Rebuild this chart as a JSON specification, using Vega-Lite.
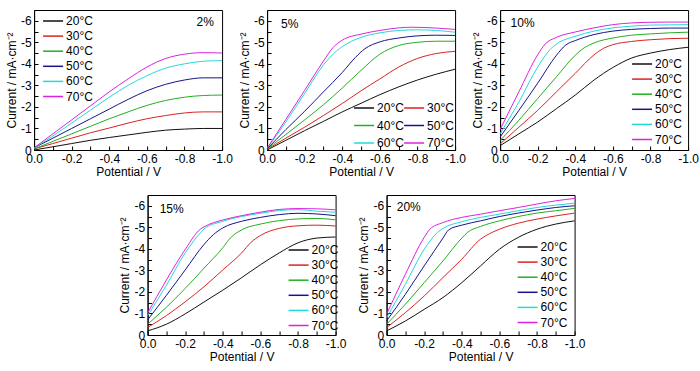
{
"$schema":"https://vega.github.io/schema/vega-lite/v6.json",
"padding":{"top":9,"left":4,"right":0,"bottom":3},
"config":{"font":"Liberation Sans","view":{"stroke":"#000","strokeWidth":1},
"axis":{"domainColor":"#000","tickColor":"#000","labelColor":"#000","titleColor":"#000","labelFontSize":12,"titleFontSize":12,"titleFontWeight":"normal","grid":false,"tickSize":-4,"labelPadding":7,"labelFlush":false,"labelOverlap":false,"tickCount":40},
"legend":{"labelFontSize":12,"labelColor":"#000","padding":0,"symbolType":"M-2,0H2","symbolSize":100,"symbolStrokeWidth":1.5,"rowPadding":3.1,"labelOffset":7},
"text":{"font":"Liberation Sans"}},
"resolve":{"scale":{"color":"independent"}},
"spacing":16,
"center":true,
"data":{"values":[
{"p":"2%","T":"20°C","V":0,"I":0},{"p":"2%","T":"20°C","V":-0.1,"I":-0.15},{"p":"2%","T":"20°C","V":-0.2,"I":-0.3},{"p":"2%","T":"20°C","V":-0.3,"I":-0.45},{"p":"2%","T":"20°C","V":-0.4,"I":-0.58},{"p":"2%","T":"20°C","V":-0.5,"I":-0.7},{"p":"2%","T":"20°C","V":-0.6,"I":-0.82},{"p":"2%","T":"20°C","V":-0.7,"I":-0.92},{"p":"2%","T":"20°C","V":-0.8,"I":-0.97},{"p":"2%","T":"20°C","V":-0.9,"I":-1.0},{"p":"2%","T":"20°C","V":-1.0,"I":-1.0},
{"p":"2%","T":"30°C","V":0,"I":-0.05},{"p":"2%","T":"30°C","V":-0.1,"I":-0.3},{"p":"2%","T":"30°C","V":-0.2,"I":-0.55},{"p":"2%","T":"30°C","V":-0.3,"I":-0.8},{"p":"2%","T":"30°C","V":-0.4,"I":-1.02},{"p":"2%","T":"30°C","V":-0.5,"I":-1.25},{"p":"2%","T":"30°C","V":-0.6,"I":-1.45},{"p":"2%","T":"30°C","V":-0.7,"I":-1.6},{"p":"2%","T":"30°C","V":-0.8,"I":-1.72},{"p":"2%","T":"30°C","V":-0.9,"I":-1.77},{"p":"2%","T":"30°C","V":-1.0,"I":-1.77},
{"p":"2%","T":"40°C","V":0,"I":-0.05},{"p":"2%","T":"40°C","V":-0.1,"I":-0.4},{"p":"2%","T":"40°C","V":-0.2,"I":-0.75},{"p":"2%","T":"40°C","V":-0.3,"I":-1.1},{"p":"2%","T":"40°C","V":-0.4,"I":-1.45},{"p":"2%","T":"40°C","V":-0.5,"I":-1.77},{"p":"2%","T":"40°C","V":-0.6,"I":-2.07},{"p":"2%","T":"40°C","V":-0.7,"I":-2.3},{"p":"2%","T":"40°C","V":-0.8,"I":-2.45},{"p":"2%","T":"40°C","V":-0.9,"I":-2.53},{"p":"2%","T":"40°C","V":-1.0,"I":-2.55},
{"p":"2%","T":"50°C","V":0,"I":-0.1},{"p":"2%","T":"50°C","V":-0.1,"I":-0.55},{"p":"2%","T":"50°C","V":-0.2,"I":-1.0},{"p":"2%","T":"50°C","V":-0.3,"I":-1.45},{"p":"2%","T":"50°C","V":-0.4,"I":-1.9},{"p":"2%","T":"50°C","V":-0.5,"I":-2.35},{"p":"2%","T":"50°C","V":-0.6,"I":-2.75},{"p":"2%","T":"50°C","V":-0.7,"I":-3.05},{"p":"2%","T":"50°C","V":-0.8,"I":-3.25},{"p":"2%","T":"50°C","V":-0.9,"I":-3.35},{"p":"2%","T":"50°C","V":-1.0,"I":-3.35},
{"p":"2%","T":"60°C","V":0,"I":-0.1},{"p":"2%","T":"60°C","V":-0.1,"I":-0.65},{"p":"2%","T":"60°C","V":-0.2,"I":-1.25},{"p":"2%","T":"60°C","V":-0.3,"I":-1.85},{"p":"2%","T":"60°C","V":-0.4,"I":-2.45},{"p":"2%","T":"60°C","V":-0.5,"I":-3.0},{"p":"2%","T":"60°C","V":-0.6,"I":-3.45},{"p":"2%","T":"60°C","V":-0.7,"I":-3.8},{"p":"2%","T":"60°C","V":-0.8,"I":-4.0},{"p":"2%","T":"60°C","V":-0.9,"I":-4.12},{"p":"2%","T":"60°C","V":-1.0,"I":-4.15},
{"p":"2%","T":"70°C","V":0,"I":-0.1},{"p":"2%","T":"70°C","V":-0.1,"I":-0.75},{"p":"2%","T":"70°C","V":-0.2,"I":-1.4},{"p":"2%","T":"70°C","V":-0.3,"I":-2.05},{"p":"2%","T":"70°C","V":-0.4,"I":-2.7},{"p":"2%","T":"70°C","V":-0.5,"I":-3.3},{"p":"2%","T":"70°C","V":-0.6,"I":-3.85},{"p":"2%","T":"70°C","V":-0.7,"I":-4.25},{"p":"2%","T":"70°C","V":-0.8,"I":-4.45},{"p":"2%","T":"70°C","V":-0.9,"I":-4.52},{"p":"2%","T":"70°C","V":-1.0,"I":-4.5},

{"p":"5%","T":"20°C","V":0,"I":0},{"p":"5%","T":"20°C","V":-0.1,"I":-0.45},{"p":"5%","T":"20°C","V":-0.2,"I":-0.9},{"p":"5%","T":"20°C","V":-0.3,"I":-1.33},{"p":"5%","T":"20°C","V":-0.4,"I":-1.77},{"p":"5%","T":"20°C","V":-0.5,"I":-2.17},{"p":"5%","T":"20°C","V":-0.6,"I":-2.57},{"p":"5%","T":"20°C","V":-0.7,"I":-2.93},{"p":"5%","T":"20°C","V":-0.8,"I":-3.25},{"p":"5%","T":"20°C","V":-0.9,"I":-3.52},{"p":"5%","T":"20°C","V":-1.0,"I":-3.75},
{"p":"5%","T":"30°C","V":0,"I":-0.03},{"p":"5%","T":"30°C","V":-0.1,"I":-0.55},{"p":"5%","T":"30°C","V":-0.2,"I":-1.06},{"p":"5%","T":"30°C","V":-0.3,"I":-1.6},{"p":"5%","T":"30°C","V":-0.4,"I":-2.16},{"p":"5%","T":"30°C","V":-0.5,"I":-2.75},{"p":"5%","T":"30°C","V":-0.6,"I":-3.3},{"p":"5%","T":"30°C","V":-0.7,"I":-3.85},{"p":"5%","T":"30°C","V":-0.8,"I":-4.25},{"p":"5%","T":"30°C","V":-0.9,"I":-4.48},{"p":"5%","T":"30°C","V":-1.0,"I":-4.58},
{"p":"5%","T":"40°C","V":0,"I":-0.05},{"p":"5%","T":"40°C","V":-0.1,"I":-0.72},{"p":"5%","T":"40°C","V":-0.2,"I":-1.4},{"p":"5%","T":"40°C","V":-0.3,"I":-2.1},{"p":"5%","T":"40°C","V":-0.4,"I":-2.88},{"p":"5%","T":"40°C","V":-0.5,"I":-3.7},{"p":"5%","T":"40°C","V":-0.6,"I":-4.45},{"p":"5%","T":"40°C","V":-0.7,"I":-4.85},{"p":"5%","T":"40°C","V":-0.8,"I":-5.0},{"p":"5%","T":"40°C","V":-0.9,"I":-5.05},{"p":"5%","T":"40°C","V":-1.0,"I":-5.05},
{"p":"5%","T":"50°C","V":0,"I":-0.05},{"p":"5%","T":"50°C","V":-0.1,"I":-0.95},{"p":"5%","T":"50°C","V":-0.2,"I":-1.8},{"p":"5%","T":"50°C","V":-0.3,"I":-2.7},{"p":"5%","T":"50°C","V":-0.4,"I":-3.6},{"p":"5%","T":"50°C","V":-0.47,"I":-4.3},{"p":"5%","T":"50°C","V":-0.52,"I":-4.7},{"p":"5%","T":"50°C","V":-0.6,"I":-5.02},{"p":"5%","T":"50°C","V":-0.7,"I":-5.2},{"p":"5%","T":"50°C","V":-0.8,"I":-5.3},{"p":"5%","T":"50°C","V":-0.9,"I":-5.33},{"p":"5%","T":"50°C","V":-1.0,"I":-5.32},
{"p":"5%","T":"60°C","V":0,"I":-0.08},{"p":"5%","T":"60°C","V":-0.1,"I":-1.3},{"p":"5%","T":"60°C","V":-0.2,"I":-2.63},{"p":"5%","T":"60°C","V":-0.3,"I":-3.95},{"p":"5%","T":"60°C","V":-0.37,"I":-4.6},{"p":"5%","T":"60°C","V":-0.4,"I":-4.8},{"p":"5%","T":"60°C","V":-0.5,"I":-5.23},{"p":"5%","T":"60°C","V":-0.6,"I":-5.44},{"p":"5%","T":"60°C","V":-0.7,"I":-5.55},{"p":"5%","T":"60°C","V":-0.8,"I":-5.58},{"p":"5%","T":"60°C","V":-0.9,"I":-5.55},{"p":"5%","T":"60°C","V":-1.0,"I":-5.47},
{"p":"5%","T":"70°C","V":0,"I":-0.08},{"p":"5%","T":"70°C","V":-0.1,"I":-1.42},{"p":"5%","T":"70°C","V":-0.2,"I":-2.77},{"p":"5%","T":"70°C","V":-0.3,"I":-4.13},{"p":"5%","T":"70°C","V":-0.35,"I":-4.75},{"p":"5%","T":"70°C","V":-0.4,"I":-5.1},{"p":"5%","T":"70°C","V":-0.5,"I":-5.38},{"p":"5%","T":"70°C","V":-0.6,"I":-5.55},{"p":"5%","T":"70°C","V":-0.7,"I":-5.67},{"p":"5%","T":"70°C","V":-0.77,"I":-5.7},{"p":"5%","T":"70°C","V":-0.9,"I":-5.66},{"p":"5%","T":"70°C","V":-1.0,"I":-5.6},

{"p":"10%","T":"20°C","V":0,"I":-0.2},{"p":"10%","T":"20°C","V":-0.1,"I":-0.75},{"p":"10%","T":"20°C","V":-0.2,"I":-1.3},{"p":"10%","T":"20°C","V":-0.3,"I":-1.92},{"p":"10%","T":"20°C","V":-0.4,"I":-2.55},{"p":"10%","T":"20°C","V":-0.5,"I":-3.25},{"p":"10%","T":"20°C","V":-0.6,"I":-3.83},{"p":"10%","T":"20°C","V":-0.7,"I":-4.27},{"p":"10%","T":"20°C","V":-0.8,"I":-4.5},{"p":"10%","T":"20°C","V":-0.9,"I":-4.66},{"p":"10%","T":"20°C","V":-1.0,"I":-4.77},
{"p":"10%","T":"30°C","V":0,"I":-0.28},{"p":"10%","T":"30°C","V":-0.1,"I":-1.06},{"p":"10%","T":"30°C","V":-0.2,"I":-1.84},{"p":"10%","T":"30°C","V":-0.3,"I":-2.7},{"p":"10%","T":"30°C","V":-0.4,"I":-3.56},{"p":"10%","T":"30°C","V":-0.5,"I":-4.42},{"p":"10%","T":"30°C","V":-0.55,"I":-4.72},{"p":"10%","T":"30°C","V":-0.6,"I":-4.89},{"p":"10%","T":"30°C","V":-0.7,"I":-5.04},{"p":"10%","T":"30°C","V":-0.8,"I":-5.12},{"p":"10%","T":"30°C","V":-0.9,"I":-5.17},{"p":"10%","T":"30°C","V":-1.0,"I":-5.19},
{"p":"10%","T":"40°C","V":0,"I":-0.44},{"p":"10%","T":"40°C","V":-0.1,"I":-1.38},{"p":"10%","T":"40°C","V":-0.2,"I":-2.39},{"p":"10%","T":"40°C","V":-0.3,"I":-3.4},{"p":"10%","T":"40°C","V":-0.4,"I":-4.4},{"p":"10%","T":"40°C","V":-0.44,"I":-4.7},{"p":"10%","T":"40°C","V":-0.5,"I":-4.97},{"p":"10%","T":"40°C","V":-0.6,"I":-5.2},{"p":"10%","T":"40°C","V":-0.7,"I":-5.33},{"p":"10%","T":"40°C","V":-0.8,"I":-5.39},{"p":"10%","T":"40°C","V":-0.9,"I":-5.44},{"p":"10%","T":"40°C","V":-1.0,"I":-5.47},
{"p":"10%","T":"50°C","V":0,"I":-0.6},{"p":"10%","T":"50°C","V":-0.1,"I":-1.84},{"p":"10%","T":"50°C","V":-0.2,"I":-3.1},{"p":"10%","T":"50°C","V":-0.3,"I":-4.4},{"p":"10%","T":"50°C","V":-0.35,"I":-4.88},{"p":"10%","T":"50°C","V":-0.4,"I":-5.08},{"p":"10%","T":"50°C","V":-0.5,"I":-5.36},{"p":"10%","T":"50°C","V":-0.6,"I":-5.52},{"p":"10%","T":"50°C","V":-0.7,"I":-5.6},{"p":"10%","T":"50°C","V":-0.8,"I":-5.64},{"p":"10%","T":"50°C","V":-0.9,"I":-5.66},{"p":"10%","T":"50°C","V":-1.0,"I":-5.66},
{"p":"10%","T":"60°C","V":0,"I":-0.75},{"p":"10%","T":"60°C","V":-0.1,"I":-2.23},{"p":"10%","T":"60°C","V":-0.2,"I":-3.85},{"p":"10%","T":"60°C","V":-0.27,"I":-4.7},{"p":"10%","T":"60°C","V":-0.3,"I":-4.92},{"p":"10%","T":"60°C","V":-0.4,"I":-5.28},{"p":"10%","T":"60°C","V":-0.5,"I":-5.52},{"p":"10%","T":"60°C","V":-0.6,"I":-5.67},{"p":"10%","T":"60°C","V":-0.7,"I":-5.75},{"p":"10%","T":"60°C","V":-0.8,"I":-5.8},{"p":"10%","T":"60°C","V":-0.9,"I":-5.81},{"p":"10%","T":"60°C","V":-1.0,"I":-5.82},
{"p":"10%","T":"70°C","V":0,"I":-0.95},{"p":"10%","T":"70°C","V":-0.1,"I":-2.7},{"p":"10%","T":"70°C","V":-0.2,"I":-4.42},{"p":"10%","T":"70°C","V":-0.24,"I":-4.92},{"p":"10%","T":"70°C","V":-0.3,"I":-5.23},{"p":"10%","T":"70°C","V":-0.4,"I":-5.48},{"p":"10%","T":"70°C","V":-0.5,"I":-5.67},{"p":"10%","T":"70°C","V":-0.6,"I":-5.82},{"p":"10%","T":"70°C","V":-0.7,"I":-5.9},{"p":"10%","T":"70°C","V":-0.8,"I":-5.93},{"p":"10%","T":"70°C","V":-0.9,"I":-5.94},{"p":"10%","T":"70°C","V":-1.0,"I":-5.94},

{"p":"15%","T":"20°C","V":0,"I":-0.19},{"p":"15%","T":"20°C","V":-0.1,"I":-0.5},{"p":"15%","T":"20°C","V":-0.2,"I":-0.98},{"p":"15%","T":"20°C","V":-0.3,"I":-1.53},{"p":"15%","T":"20°C","V":-0.4,"I":-2.08},{"p":"15%","T":"20°C","V":-0.5,"I":-2.66},{"p":"15%","T":"20°C","V":-0.6,"I":-3.26},{"p":"15%","T":"20°C","V":-0.7,"I":-3.81},{"p":"15%","T":"20°C","V":-0.8,"I":-4.28},{"p":"15%","T":"20°C","V":-0.9,"I":-4.5},{"p":"15%","T":"20°C","V":-1.0,"I":-4.55},
{"p":"15%","T":"30°C","V":0,"I":-0.35},{"p":"15%","T":"30°C","V":-0.1,"I":-0.9},{"p":"15%","T":"30°C","V":-0.2,"I":-1.54},{"p":"15%","T":"30°C","V":-0.3,"I":-2.24},{"p":"15%","T":"30°C","V":-0.4,"I":-3.02},{"p":"15%","T":"30°C","V":-0.5,"I":-3.81},{"p":"15%","T":"30°C","V":-0.55,"I":-4.3},{"p":"15%","T":"30°C","V":-0.6,"I":-4.62},{"p":"15%","T":"30°C","V":-0.7,"I":-4.95},{"p":"15%","T":"30°C","V":-0.8,"I":-5.07},{"p":"15%","T":"30°C","V":-0.9,"I":-5.1},{"p":"15%","T":"30°C","V":-1.0,"I":-5.06},
{"p":"15%","T":"40°C","V":0,"I":-0.5},{"p":"15%","T":"40°C","V":-0.1,"I":-1.29},{"p":"15%","T":"40°C","V":-0.2,"I":-2.16},{"p":"15%","T":"40°C","V":-0.3,"I":-3.1},{"p":"15%","T":"40°C","V":-0.4,"I":-4.05},{"p":"15%","T":"40°C","V":-0.44,"I":-4.5},{"p":"15%","T":"40°C","V":-0.5,"I":-4.88},{"p":"15%","T":"40°C","V":-0.6,"I":-5.15},{"p":"15%","T":"40°C","V":-0.7,"I":-5.31},{"p":"15%","T":"40°C","V":-0.8,"I":-5.39},{"p":"15%","T":"40°C","V":-0.9,"I":-5.41},{"p":"15%","T":"40°C","V":-1.0,"I":-5.35},
{"p":"15%","T":"50°C","V":0,"I":-0.7},{"p":"15%","T":"50°C","V":-0.1,"I":-1.84},{"p":"15%","T":"50°C","V":-0.2,"I":-3.02},{"p":"15%","T":"50°C","V":-0.3,"I":-4.2},{"p":"15%","T":"50°C","V":-0.35,"I":-4.66},{"p":"15%","T":"50°C","V":-0.4,"I":-4.97},{"p":"15%","T":"50°C","V":-0.5,"I":-5.28},{"p":"15%","T":"50°C","V":-0.6,"I":-5.46},{"p":"15%","T":"50°C","V":-0.7,"I":-5.59},{"p":"15%","T":"50°C","V":-0.8,"I":-5.65},{"p":"15%","T":"50°C","V":-0.9,"I":-5.62},{"p":"15%","T":"50°C","V":-1.0,"I":-5.54},
{"p":"15%","T":"60°C","V":0,"I":-0.9},{"p":"15%","T":"60°C","V":-0.1,"I":-2.31},{"p":"15%","T":"60°C","V":-0.2,"I":-3.81},{"p":"15%","T":"60°C","V":-0.29,"I":-4.83},{"p":"15%","T":"60°C","V":-0.3,"I":-4.92},{"p":"15%","T":"60°C","V":-0.4,"I":-5.28},{"p":"15%","T":"60°C","V":-0.5,"I":-5.5},{"p":"15%","T":"60°C","V":-0.6,"I":-5.65},{"p":"15%","T":"60°C","V":-0.7,"I":-5.78},{"p":"15%","T":"60°C","V":-0.8,"I":-5.82},{"p":"15%","T":"60°C","V":-0.9,"I":-5.75},{"p":"15%","T":"60°C","V":-1.0,"I":-5.7},
{"p":"15%","T":"70°C","V":0,"I":-1.02},{"p":"15%","T":"70°C","V":-0.1,"I":-2.55},{"p":"15%","T":"70°C","V":-0.2,"I":-3.97},{"p":"15%","T":"70°C","V":-0.28,"I":-4.91},{"p":"15%","T":"70°C","V":-0.3,"I":-5.02},{"p":"15%","T":"70°C","V":-0.4,"I":-5.34},{"p":"15%","T":"70°C","V":-0.5,"I":-5.54},{"p":"15%","T":"70°C","V":-0.6,"I":-5.7},{"p":"15%","T":"70°C","V":-0.7,"I":-5.83},{"p":"15%","T":"70°C","V":-0.8,"I":-5.87},{"p":"15%","T":"70°C","V":-0.9,"I":-5.86},{"p":"15%","T":"70°C","V":-1.0,"I":-5.81},

{"p":"20%","T":"20°C","V":0,"I":-0.19},{"p":"20%","T":"20°C","V":-0.1,"I":-0.65},{"p":"20%","T":"20°C","V":-0.2,"I":-1.19},{"p":"20%","T":"20°C","V":-0.3,"I":-1.74},{"p":"20%","T":"20°C","V":-0.4,"I":-2.43},{"p":"20%","T":"20°C","V":-0.5,"I":-3.21},{"p":"20%","T":"20°C","V":-0.6,"I":-3.98},{"p":"20%","T":"20°C","V":-0.7,"I":-4.53},{"p":"20%","T":"20°C","V":-0.8,"I":-4.91},{"p":"20%","T":"20°C","V":-0.9,"I":-5.15},{"p":"20%","T":"20°C","V":-1.0,"I":-5.3},
{"p":"20%","T":"30°C","V":0,"I":-0.34},{"p":"20%","T":"30°C","V":-0.1,"I":-1.04},{"p":"20%","T":"30°C","V":-0.2,"I":-1.81},{"p":"20%","T":"30°C","V":-0.3,"I":-2.67},{"p":"20%","T":"30°C","V":-0.4,"I":-3.52},{"p":"20%","T":"30°C","V":-0.5,"I":-4.45},{"p":"20%","T":"30°C","V":-0.53,"I":-4.62},{"p":"20%","T":"30°C","V":-0.6,"I":-4.91},{"p":"20%","T":"30°C","V":-0.7,"I":-5.19},{"p":"20%","T":"30°C","V":-0.8,"I":-5.38},{"p":"20%","T":"30°C","V":-0.9,"I":-5.53},{"p":"20%","T":"30°C","V":-1.0,"I":-5.66},
{"p":"20%","T":"40°C","V":0,"I":-0.5},{"p":"20%","T":"40°C","V":-0.1,"I":-1.43},{"p":"20%","T":"40°C","V":-0.2,"I":-2.43},{"p":"20%","T":"40°C","V":-0.3,"I":-3.44},{"p":"20%","T":"40°C","V":-0.4,"I":-4.5},{"p":"20%","T":"40°C","V":-0.43,"I":-4.76},{"p":"20%","T":"40°C","V":-0.5,"I":-5.04},{"p":"20%","T":"40°C","V":-0.6,"I":-5.3},{"p":"20%","T":"40°C","V":-0.7,"I":-5.5},{"p":"20%","T":"40°C","V":-0.8,"I":-5.66},{"p":"20%","T":"40°C","V":-0.9,"I":-5.77},{"p":"20%","T":"40°C","V":-1.0,"I":-5.88},
{"p":"20%","T":"50°C","V":0,"I":-0.65},{"p":"20%","T":"50°C","V":-0.1,"I":-1.89},{"p":"20%","T":"50°C","V":-0.2,"I":-3.21},{"p":"20%","T":"50°C","V":-0.3,"I":-4.5},{"p":"20%","T":"50°C","V":-0.33,"I":-4.88},{"p":"20%","T":"50°C","V":-0.4,"I":-5.1},{"p":"20%","T":"50°C","V":-0.5,"I":-5.3},{"p":"20%","T":"50°C","V":-0.6,"I":-5.5},{"p":"20%","T":"50°C","V":-0.7,"I":-5.66},{"p":"20%","T":"50°C","V":-0.8,"I":-5.8},{"p":"20%","T":"50°C","V":-0.9,"I":-5.92},{"p":"20%","T":"50°C","V":-1.0,"I":-6.0},
{"p":"20%","T":"60°C","V":0,"I":-0.8},{"p":"20%","T":"60°C","V":-0.1,"I":-2.36},{"p":"20%","T":"60°C","V":-0.2,"I":-3.98},{"p":"20%","T":"60°C","V":-0.27,"I":-4.76},{"p":"20%","T":"60°C","V":-0.3,"I":-4.95},{"p":"20%","T":"60°C","V":-0.4,"I":-5.26},{"p":"20%","T":"60°C","V":-0.5,"I":-5.46},{"p":"20%","T":"60°C","V":-0.6,"I":-5.61},{"p":"20%","T":"60°C","V":-0.7,"I":-5.77},{"p":"20%","T":"60°C","V":-0.8,"I":-5.92},{"p":"20%","T":"60°C","V":-0.9,"I":-6.03},{"p":"20%","T":"60°C","V":-1.0,"I":-6.12},
{"p":"20%","T":"70°C","V":0,"I":-0.96},{"p":"20%","T":"70°C","V":-0.1,"I":-2.82},{"p":"20%","T":"70°C","V":-0.2,"I":-4.53},{"p":"20%","T":"70°C","V":-0.23,"I":-4.91},{"p":"20%","T":"70°C","V":-0.3,"I":-5.22},{"p":"20%","T":"70°C","V":-0.4,"I":-5.46},{"p":"20%","T":"70°C","V":-0.5,"I":-5.61},{"p":"20%","T":"70°C","V":-0.6,"I":-5.77},{"p":"20%","T":"70°C","V":-0.7,"I":-5.92},{"p":"20%","T":"70°C","V":-0.8,"I":-6.08},{"p":"20%","T":"70°C","V":-0.9,"I":-6.23},{"p":"20%","T":"70°C","V":-1.0,"I":-6.34}
]},
"vconcat":[
{"hconcat":[
{"width":188,"height":140,"layer":[
 {"transform":[{"filter":"datum.p=='2%'"}],"mark":{"type":"line","interpolate":"monotone","strokeWidth":1},
  "encoding":{
   "x":{"field":"V","type":"quantitative","scale":{"domain":[0,-1],"nice":false},"axis":{"title":"Potential / V","values":[0,-0.1,-0.2,-0.3,-0.4,-0.5,-0.6,-0.7,-0.8,-0.9,-1],"labelExpr":"abs(round(datum.value*10))%2==0 ? replace(format(datum.value,'.1f'),'−','-') : ''","titlePadding":2,"tickCount":40,"labelOverlap":false}},
   "y":{"field":"I","type":"quantitative","scale":{"domain":[0,-6.5],"nice":false},"axis":{"title":"Current / mA·cm⁻²","values":[0,-0.5,-1,-1.5,-2,-2.5,-3,-3.5,-4,-4.5,-5,-5.5,-6],"labelExpr":"abs(round(datum.value*2))%2==0 ? replace(format(datum.value,'d'),'−','-') : ''","titlePadding":2,"tickCount":40,"labelOverlap":false}},
   "color":{"field":"T","type":"nominal","scale":{"domain":["20°C","30°C","40°C","50°C","60°C","70°C"],"range":["#111111","#dd2222","#22b022","#15158a","#22dada","#dd22dd"]},"legend":{"title":null,"orient":"none","legendX":13,"legendY":5}}
  }},
 {"data":{"values":[{"label":"2%"}]},"mark":{"type":"text","fontSize":12},"encoding":{"x":{"datum":-0.91},"y":{"datum":-5.95},"text":{"field":"label"}}}
]},
{"hconcat":[
{"width":188,"height":140,"layer":[
 {"transform":[{"filter":"datum.p=='5%'"}],"mark":{"type":"line","interpolate":"monotone","strokeWidth":1},
  "encoding":{
   "x":{"field":"V","type":"quantitative","scale":{"domain":[0,-1],"nice":false},"axis":{"title":"Potential / V","values":[0,-0.1,-0.2,-0.3,-0.4,-0.5,-0.6,-0.7,-0.8,-0.9,-1],"labelExpr":"abs(round(datum.value*10))%2==0 ? replace(format(datum.value,'.1f'),'−','-') : ''","titlePadding":2,"tickCount":40,"labelOverlap":false}},
   "y":{"field":"I","type":"quantitative","scale":{"domain":[0,-6.5],"nice":false},"axis":{"title":"Current / mA·cm⁻²","values":[0,-0.5,-1,-1.5,-2,-2.5,-3,-3.5,-4,-4.5,-5,-5.5,-6],"labelExpr":"abs(round(datum.value*2))%2==0 ? replace(format(datum.value,'d'),'−','-') : ''","titlePadding":2,"tickCount":40,"labelOverlap":false}},
   "color":{"field":"T","type":"nominal","scale":{"domain":["20°C","30°C","40°C","50°C","60°C","70°C"],"range":["#111111","#dd2222","#22b022","#15158a","#22dada","#dd22dd"]},"legend":{"title":null,"orient":"none","legendX":91,"legendY":92,"columns":2,"columnPadding":-3,"rowPadding":5.5,"values":["20°C","40°C","60°C","30°C","50°C","70°C"]}}
  }},
 {"data":{"values":[{"label":"5%"}]},"mark":{"type":"text","fontSize":12},"encoding":{"x":{"datum":-0.12},"y":{"datum":-5.86},"text":{"field":"label"}}}
]},
{"width":188,"height":140,"layer":[
 {"transform":[{"filter":"datum.p=='10%'"}],"mark":{"type":"line","interpolate":"monotone","strokeWidth":1},
  "encoding":{
   "x":{"field":"V","type":"quantitative","scale":{"domain":[0,-1],"nice":false},"axis":{"title":"Potential / V","values":[0,-0.1,-0.2,-0.3,-0.4,-0.5,-0.6,-0.7,-0.8,-0.9,-1],"labelExpr":"abs(round(datum.value*10))%2==0 ? replace(format(datum.value,'.1f'),'−','-') : ''","titlePadding":2,"tickCount":40,"labelOverlap":false}},
   "y":{"field":"I","type":"quantitative","scale":{"domain":[0,-6.5],"nice":false},"axis":{"title":"Current / mA·cm⁻²","values":[0,-0.5,-1,-1.5,-2,-2.5,-3,-3.5,-4,-4.5,-5,-5.5,-6],"labelExpr":"abs(round(datum.value*2))%2==0 ? replace(format(datum.value,'d'),'−','-') : ''","titlePadding":2,"tickCount":40,"labelOverlap":false}},
   "color":{"field":"T","type":"nominal","scale":{"domain":["20°C","30°C","40°C","50°C","60°C","70°C"],"range":["#111111","#dd2222","#22b022","#15158a","#22dada","#dd22dd"]},"legend":{"title":null,"orient":"none","legendX":136,"legendY":48}}
  }},
 {"data":{"values":[{"label":"10%"}]},"mark":{"type":"text","fontSize":12},"encoding":{"x":{"datum":-0.12},"y":{"datum":-5.9},"text":{"field":"label"}}}
]}
],"spacing":4,"resolve":{"scale":{"color":"independent"}}}
],"spacing":4,"resolve":{"scale":{"color":"independent"}}},
{"hconcat":[
{"width":188,"height":140,"layer":[
 {"transform":[{"filter":"datum.p=='15%'"}],"mark":{"type":"line","interpolate":"monotone","strokeWidth":1},
  "encoding":{
   "x":{"field":"V","type":"quantitative","scale":{"domain":[0,-1],"nice":false},"axis":{"title":"Potential / V","values":[0,-0.1,-0.2,-0.3,-0.4,-0.5,-0.6,-0.7,-0.8,-0.9,-1],"labelExpr":"abs(round(datum.value*10))%2==0 ? replace(format(datum.value,'.1f'),'−','-') : ''","titlePadding":2,"tickCount":40,"labelOverlap":false}},
   "y":{"field":"I","type":"quantitative","scale":{"domain":[0,-6.5],"nice":false},"axis":{"title":"Current / mA·cm⁻²","values":[0,-0.5,-1,-1.5,-2,-2.5,-3,-3.5,-4,-4.5,-5,-5.5,-6],"labelExpr":"abs(round(datum.value*2))%2==0 ? replace(format(datum.value,'d'),'−','-') : ''","titlePadding":2,"tickCount":40,"labelOverlap":false}},
   "color":{"field":"T","type":"nominal","scale":{"domain":["20°C","30°C","40°C","50°C","60°C","70°C"],"range":["#111111","#dd2222","#22b022","#15158a","#22dada","#dd22dd"]},"legend":{"title":null,"orient":"none","legendX":145,"legendY":49}}
  }},
 {"data":{"values":[{"label":"15%"}]},"mark":{"type":"text","fontSize":12},"encoding":{"x":{"datum":-0.128},"y":{"datum":-5.85},"text":{"field":"label"}}}
]},
{"width":188,"height":140,"layer":[
 {"transform":[{"filter":"datum.p=='20%'"}],"mark":{"type":"line","interpolate":"monotone","strokeWidth":1},
  "encoding":{
   "x":{"field":"V","type":"quantitative","scale":{"domain":[0,-1],"nice":false},"axis":{"title":"Potential / V","values":[0,-0.1,-0.2,-0.3,-0.4,-0.5,-0.6,-0.7,-0.8,-0.9,-1],"labelExpr":"abs(round(datum.value*10))%2==0 ? replace(format(datum.value,'.1f'),'−','-') : ''","titlePadding":2,"tickCount":40,"labelOverlap":false}},
   "y":{"field":"I","type":"quantitative","scale":{"domain":[0,-6.5],"nice":false},"axis":{"title":"Current / mA·cm⁻²","values":[0,-0.5,-1,-1.5,-2,-2.5,-3,-3.5,-4,-4.5,-5,-5.5,-6],"labelExpr":"abs(round(datum.value*2))%2==0 ? replace(format(datum.value,'d'),'−','-') : ''","titlePadding":2,"tickCount":40,"labelOverlap":false}},
   "color":{"field":"T","type":"nominal","scale":{"domain":["20°C","30°C","40°C","50°C","60°C","70°C"],"range":["#111111","#dd2222","#22b022","#15158a","#22dada","#dd22dd"]},"legend":{"title":null,"orient":"none","legendX":135,"legendY":46}}
  }},
 {"data":{"values":[{"label":"20%"}]},"mark":{"type":"text","fontSize":12},"encoding":{"x":{"datum":-0.118},"y":{"datum":-5.93},"text":{"field":"label"}}}
]}
],"spacing":10,"resolve":{"scale":{"color":"independent"}}}
]
}
